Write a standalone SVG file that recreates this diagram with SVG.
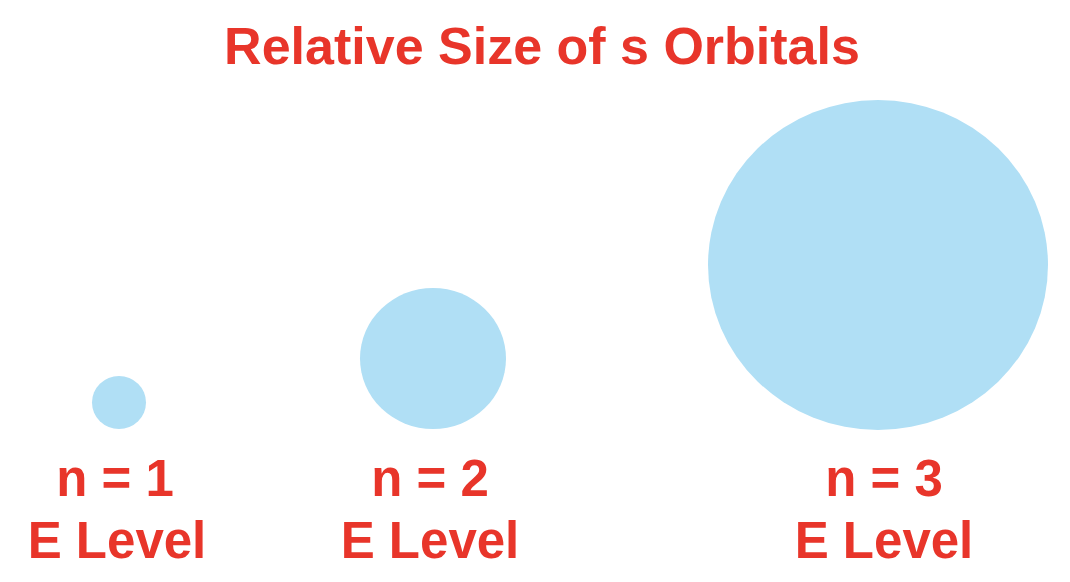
<svg xmlns="http://www.w3.org/2000/svg" width="1070" height="582" viewBox="0 0 1070 582">
<style>
.t{font-family:"Liberation Sans",Arial,Helvetica,sans-serif;font-weight:bold;fill:#E8352A;text-anchor:middle}
.orb{fill:#B0DFF5}
</style>
<rect width="1070" height="582" fill="#ffffff"/>
<text class="t" x="542" y="64" font-size="52">Relative Size of s Orbitals</text>
<g id="n1">
<ellipse class="orb" cx="119" cy="402.5" rx="27" ry="26.5"/>
<text class="t" x="115" y="496" font-size="51">n = 1</text>
<text class="t" x="117" y="558" font-size="51">E Level</text>
</g>
<g id="n2">
<ellipse class="orb" cx="433" cy="358.5" rx="73" ry="70.5"/>
<text class="t" x="430" y="496" font-size="51">n = 2</text>
<text class="t" x="430" y="558" font-size="51">E Level</text>
</g>
<g id="n3">
<ellipse class="orb" cx="878" cy="265" rx="170" ry="165"/>
<text class="t" x="884" y="496" font-size="51">n = 3</text>
<text class="t" x="884" y="558" font-size="51">E Level</text>
</g>
<g id="connectors"/>
</svg>
